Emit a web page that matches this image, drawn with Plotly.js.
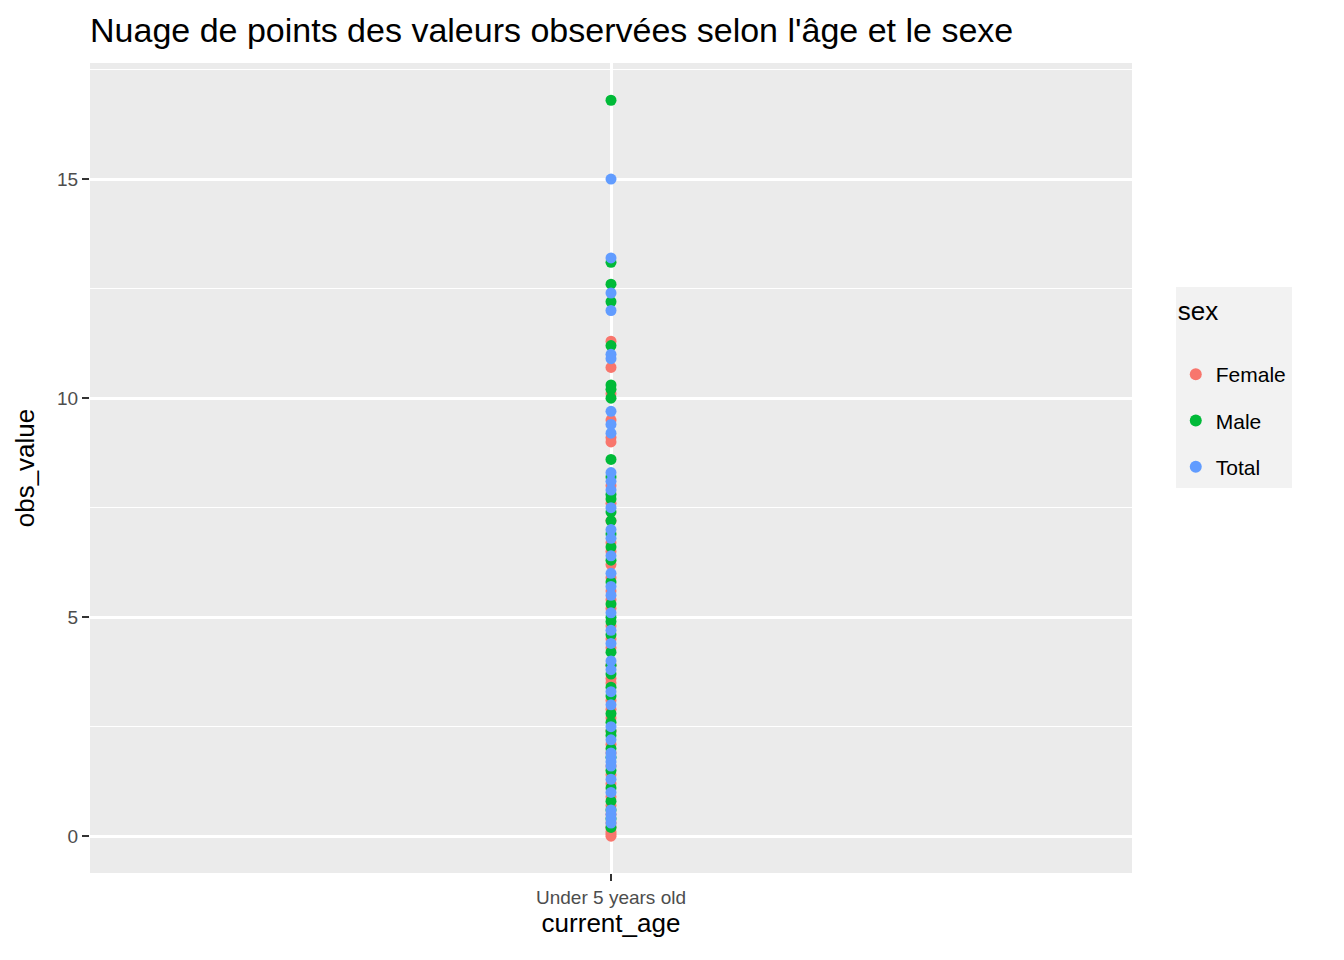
<!DOCTYPE html>
<html>
<head>
<meta charset="utf-8">
<script src="https://cdn.plot.ly/plotly-3.0.1.min.js"></script>
<style>body{margin:0}</style>
</head>
<body>
<div id="plot" style="width:1344px;height:960px"></div>
<script>
// values
const category = "Under 5 years old";
const female = [11.3, 10.7, 10.1, 9.5, 9.1, 9.0, 8.0, 7.6, 7.2, 6.7, 6.5, 6.2, 5.9, 5.6, 5.4, 5.2, 4.8, 4.5, 4.3, 3.9, 3.6, 3.5, 3.1, 2.9, 2.7, 2.4, 2.1, 1.9, 1.6, 1.4, 1.2, 0.9, 0.7, 0.5, 0.3, 0.2, 0.1, 0.05, 0.0];
const male = [16.8, 13.1, 12.6, 12.2, 11.2, 10.3, 10.2, 10.0, 8.6, 8.2, 7.8, 7.7, 7.4, 7.2, 6.9, 6.6, 6.3, 5.8, 5.3, 5.0, 4.9, 4.6, 4.2, 3.9, 3.7, 3.4, 3.2, 2.8, 2.6, 2.4, 2.3, 2.0, 1.8, 1.5, 1.1, 0.8, 0.6, 0.4, 0.2];
const total = [15.0, 13.2, 12.4, 12.0, 11.0, 10.9, 9.7, 9.4, 9.2, 8.3, 8.1, 7.9, 7.5, 7.0, 6.8, 6.4, 6.0, 5.7, 5.5, 5.1, 4.7, 4.4, 4.0, 3.8, 3.3, 3.0, 2.5, 2.2, 1.9, 1.8, 1.7, 1.6, 1.3, 1.0, 0.6, 0.5, 0.4, 0.3];

function series(vals, name, color) {
  return {
    x: vals.map(() => category), y: vals, name: name, legendgroup: name,
    mode: "markers", type: "scatter",
    marker: {color: color, size: 11}
  };
}

let traces = [
  series(female, "Female", "#F8766D"),
  series(male, "Male", "#00BA38"),
  series(total, "Total", "#619CFF")
];

let layout = {
  width: 1344, height: 960,
  margin: {l: 90, r: 212, t: 63, b: 87},
  paper_bgcolor: "white",
  plot_bgcolor: "#EBEBEB",
  font: {family: "Liberation Sans, Arial, sans-serif", color: "#4D4D4D", size: 19},
  title: {text: "Nuage de points des valeurs observées selon l'âge et le sexe",
          x: 0.067, xanchor: "left", y: 0.969, yanchor: "middle", font: {size: 34, color: "black"}},
  xaxis: {
    type: "category", range: [-0.6, 0.6],
    showgrid: true, gridcolor: "white", gridwidth: 2.5,
    ticks: "outside", ticklen: 7, tickcolor: "#333", tickwidth: 2, zeroline: false,
    title: {text: "current_age", font: {size: 26, color: "black"}, standoff: 6}
  },
  yaxis: {
    range: [-0.84, 17.65], dtick: 5, tick0: 0,
    showgrid: true, gridcolor: "white", gridwidth: 2.5,
    minor: {tick0: 2.5, dtick: 5, showgrid: true, gridcolor: "white", gridwidth: 1.2},
    ticks: "outside", ticklen: 7, tickcolor: "#333", tickwidth: 2, zeroline: false,
    title: {text: "obs_value", font: {size: 26, color: "black"}, standoff: 14}
  },
  legend: {
    x: 1.042, xanchor: "left", y: 0.6, yanchor: "middle",
    bgcolor: "#F2F2F2",
    title: {text: "sex<br> ", font: {size: 26, color: "black"}},
    font: {size: 21, color: "black"},
    tracegroupgap: 16,
    itemsizing: "constant"
  }
};

Plotly.newPlot("plot", traces, layout, {displayModeBar: false});
</script>
</body>
</html>
